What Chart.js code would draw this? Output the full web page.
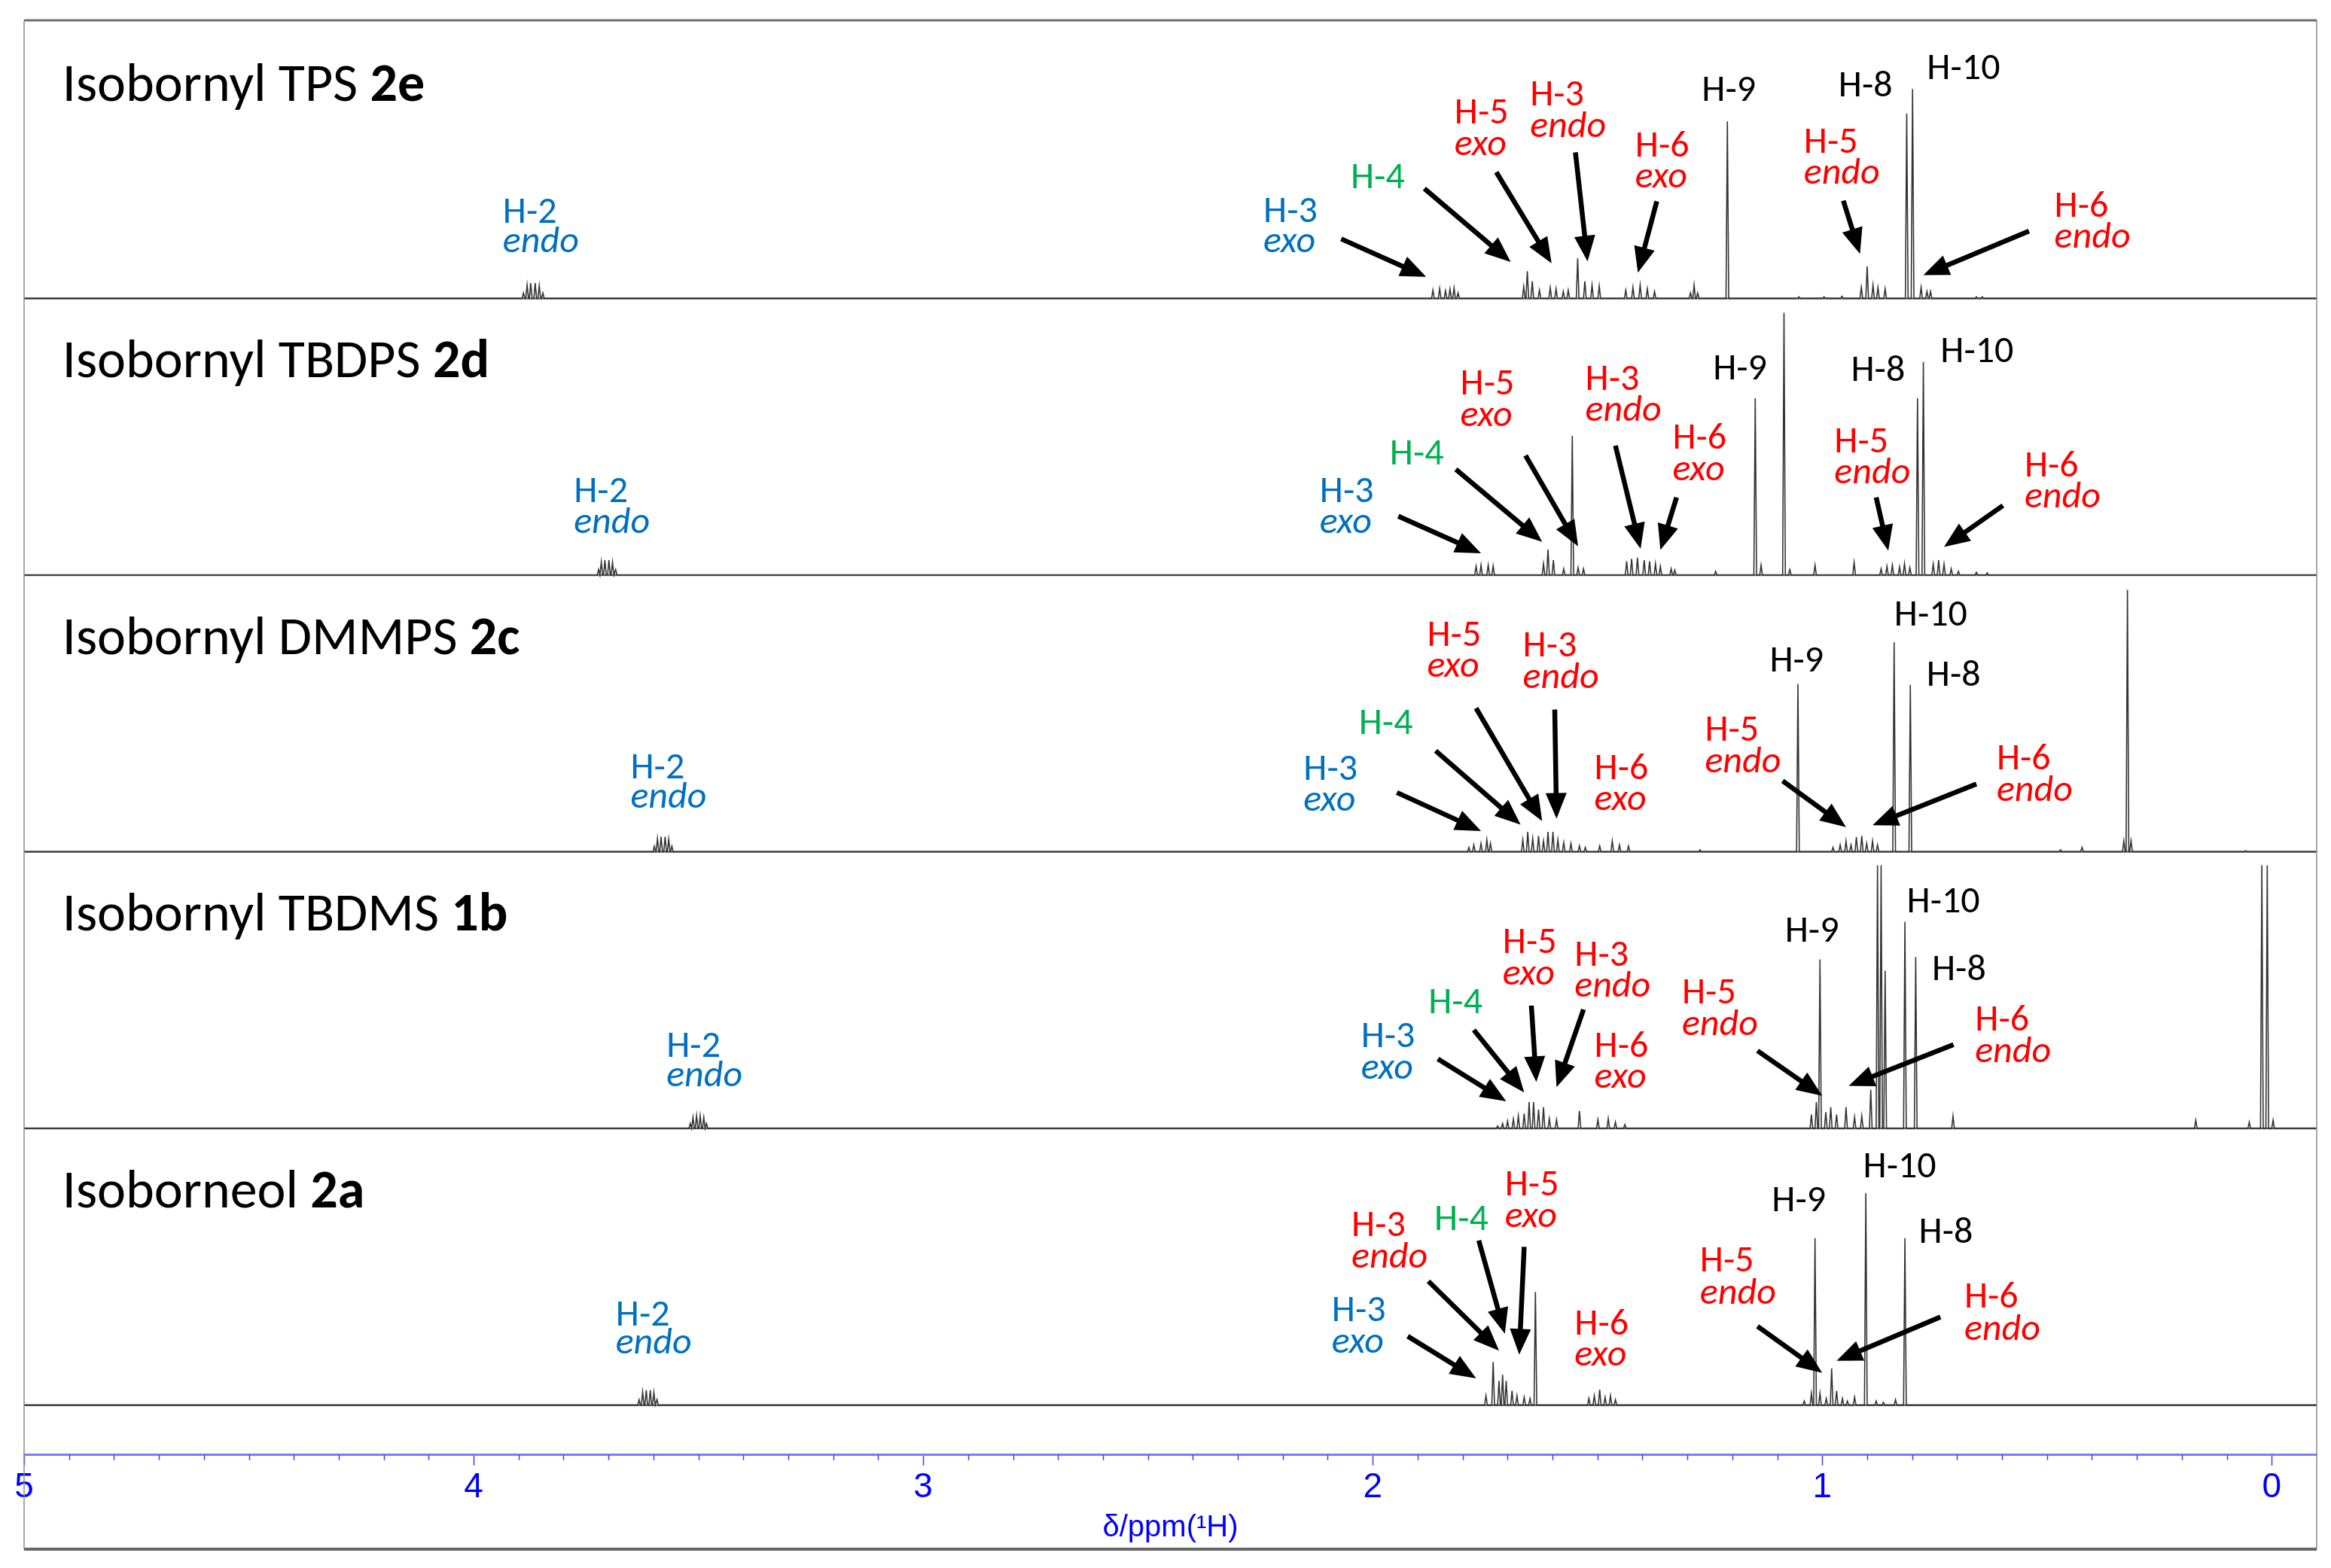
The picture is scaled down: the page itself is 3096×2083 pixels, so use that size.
<!DOCTYPE html>
<html><head><meta charset="utf-8">
<script src="https://cdn.jsdelivr.net/npm/chart.js@4.4.0/dist/chart.umd.min.js"></script>
<style>html,body{margin:0;padding:0;background:#fff;overflow:hidden}</style>
</head><body>
<canvas id="c" width="3096" height="2083" style="width:3096px;height:2083px;display:block"></canvas>
<script>
// ---------------- DATA ----------------
const compoundNames = ['Isobornyl TPS ', 'Isobornyl TBDPS ', 'Isobornyl DMMPS ', 'Isobornyl TBDMS ', 'Isoborneol '];
const compoundNumbers = ['2e', '2d', '2c', '1b', '2a'];
const majorTickLabels = [5, 4, 3, 2, 1, 0];
const axisTitle = 'δ/ppm(¹H)';

// peaks: [ppm, relative intensity (fraction of panel height)]
const peaksTPS = [
  [3.889,0.020],[3.881,0.048],[3.873,0.055],[3.863,0.055],[3.854,0.046],[3.846,0.020],
  [1.866,0.030],[1.851,0.036],[1.838,0.028],[1.828,0.034],[1.819,0.038],[1.810,0.020],
  [1.664,0.043],[1.656,0.098],[1.645,0.062],[1.629,0.030],[1.605,0.039],[1.592,0.035],[1.576,0.025],[1.565,0.030],
  [1.544,0.145],[1.528,0.062],[1.512,0.048],[1.496,0.045],
  [1.437,0.030],[1.421,0.040],[1.405,0.048],[1.389,0.035],[1.373,0.025],
  [1.293,0.020],[1.285,0.048],[1.277,0.020],
  [1.211,0.640],
  [1.052,0.006],[0.996,0.006],[0.956,0.008],
  [0.913,0.040],[0.900,0.116],[0.887,0.048],[0.876,0.039],[0.860,0.035],
  [0.812,0.668],[0.799,0.757],
  [0.780,0.040],[0.767,0.025],[0.759,0.025],
  [0.657,0.006],[0.644,0.006]
];
const peaksTBDPS = [
  [3.722,0.020],[3.716,0.048],[3.708,0.054],[3.699,0.054],[3.691,0.046],[3.684,0.020],
  [1.770,0.032],[1.759,0.036],[1.743,0.036],[1.732,0.033],
  [1.620,0.041],[1.610,0.092],[1.598,0.054],[1.575,0.023],[1.556,0.503],[1.543,0.027],[1.531,0.023],
  [1.435,0.050],[1.424,0.059],[1.411,0.063],[1.396,0.054],[1.384,0.050],[1.371,0.041],[1.360,0.032],[1.336,0.023],[1.328,0.018],
  [1.237,0.014],
  [1.149,0.639],[1.136,0.036],
  [1.085,0.948],[1.072,0.020],
  [1.016,0.036],[0.929,0.045],
  [0.869,0.023],[0.856,0.032],[0.844,0.036],[0.828,0.030],[0.817,0.041],[0.805,0.027],
  [0.788,0.639],[0.775,0.770],
  [0.753,0.040],[0.741,0.054],[0.729,0.040],[0.713,0.023],[0.697,0.014],[0.657,0.010],[0.633,0.008]
];
const peaksDMMPS = [
  [3.598,0.020],[3.591,0.048],[3.583,0.054],[3.574,0.054],[3.566,0.046],[3.559,0.020],
  [1.786,0.016],[1.775,0.025],[1.759,0.030],[1.746,0.043],[1.738,0.030],
  [1.666,0.043],[1.655,0.072],[1.644,0.048],[1.631,0.057],[1.620,0.039],[1.610,0.072],[1.599,0.072],[1.588,0.043],[1.575,0.034],[1.559,0.030],[1.540,0.021],[1.527,0.016],
  [1.495,0.021],[1.467,0.039],[1.451,0.025],[1.431,0.021],
  [1.272,0.007],
  [1.054,0.607],
  [0.976,0.016],[0.960,0.025],[0.947,0.039],[0.936,0.025],[0.924,0.053],[0.912,0.057],[0.901,0.030],[0.888,0.039],[0.877,0.025],
  [0.840,0.757],[0.804,0.603],
  [0.470,0.007],[0.422,0.016],
  [0.329,0.040],[0.321,0.947],[0.313,0.040],
  [0.058,0.004]
];
const peaksTBDMS = [
  [3.518,0.018],[3.512,0.040],[3.504,0.046],[3.496,0.046],[3.488,0.040],[3.482,0.018],
  [1.722,0.009],[1.711,0.018],[1.700,0.027],[1.687,0.034],[1.676,0.045],[1.663,0.054],[1.652,0.095],[1.642,0.095],[1.631,0.068],[1.620,0.077],[1.607,0.036],[1.591,0.032],
  [1.540,0.063],[1.499,0.032],[1.476,0.036],[1.460,0.023],[1.439,0.014],
  [1.024,0.050],[1.013,0.095],[1.005,0.611],[0.992,0.059],[0.981,0.077],[0.968,0.050],[0.947,0.077],[0.928,0.041],[0.912,0.045],[0.892,0.140],
  [0.877,0.951],[0.869,0.951],[0.860,0.570],
  [0.816,0.747],[0.792,0.620],
  [0.709,0.045],
  [0.169,0.030],
  [0.050,0.023],[0.022,0.951],[0.010,0.951],[-0.003,0.030]
];
const peaksIsoborneol = [
  [3.632,0.020],[3.624,0.048],[3.616,0.054],[3.607,0.054],[3.599,0.046],[3.592,0.020],
  [1.748,0.034],[1.732,0.156],[1.719,0.088],[1.711,0.110],[1.703,0.088],[1.690,0.052],[1.679,0.034],[1.663,0.029],[1.650,0.024],[1.638,0.409],
  [1.519,0.024],[1.507,0.034],[1.495,0.056],[1.483,0.029],[1.471,0.034],[1.460,0.020],
  [1.040,0.015],[1.024,0.043],[1.016,0.604],[1.005,0.043],[0.991,0.024],[0.979,0.133],[0.968,0.052],[0.955,0.024],[0.944,0.015],[0.928,0.029],
  [0.903,0.767],
  [0.880,0.015],[0.864,0.010],[0.837,0.020],
  [0.816,0.604]
];
const spectra = [peaksTPS, peaksTBDPS, peaksDMMPS, peaksTBDMS, peaksIsoborneol];

// ---------------- LAYOUT / ANNOTATIONS ----------------
const BASES = [4.18, 3.18, 2.18, 1.18, 0.18];   // panel baselines (y units)
const Y_MAX = 5.185;
const BLUE = '#0070c0', GREEN = '#00b050', RED = '#ff0000', BLACK = '#000000';
// [line1, line2(italic) or null, color, leftPpm, y1, y2]
const labels = [
  [['H-2','endo',BLUE,3.935,0.274,0.168],['H-3','exo',BLUE,2.243,0.277,0.166],['H-4',null,GREEN,2.049,0.397],
   ['H-5','exo',RED,1.818,0.632,0.519],['H-3','endo',RED,1.650,0.698,0.582],['H-6','exo',RED,1.416,0.512,0.401],
   ['H-9',null,BLACK,1.268,0.714],['H-5','endo',RED,1.041,0.526,0.415],['H-8',null,BLACK,0.964,0.730],
   ['H-10',null,BLACK,0.767,0.793],['H-6','endo',RED,0.4835,0.295,0.184]],
  [['H-2','endo',BLUE,3.777,0.265,0.152],['H-3','exo',BLUE,2.118,0.263,0.152],['H-4',null,GREEN,1.962,0.401],
   ['H-5','exo',RED,1.805,0.652,0.539],['H-3','endo',RED,1.527,0.670,0.557],['H-6','exo',RED,1.333,0.457,0.344],
   ['H-9',null,BLACK,1.243,0.707],['H-5','endo',RED,0.973,0.444,0.331],['H-8',null,BLACK,0.936,0.702],
   ['H-10',null,BLACK,0.737,0.770],['H-6','endo',RED,0.550,0.356,0.245]],
  [['H-2','endo',BLUE,3.651,0.266,0.160],['H-3','exo',BLUE,2.154,0.259,0.148],['H-4',null,GREEN,2.031,0.426],
   ['H-5','exo',RED,1.879,0.745,0.632],['H-3','endo',RED,1.666,0.707,0.591],['H-6','exo',RED,1.507,0.263,0.150],
   ['H-9',null,BLACK,1.117,0.652],['H-5','endo',RED,1.261,0.401,0.286],['H-10',null,BLACK,0.840,0.818],
   ['H-8',null,BLACK,0.768,0.601],['H-6','endo',RED,0.612,0.299,0.184]],
  [['H-2','endo',BLUE,3.571,0.260,0.152],['H-3','exo',BLUE,2.026,0.294,0.181],['H-4',null,GREEN,1.876,0.417],
   ['H-5','exo',RED,1.711,0.634,0.521],['H-3','endo',RED,1.551,0.589,0.476],['H-6','exo',RED,1.507,0.260,0.148],
   ['H-9',null,BLACK,1.083,0.675],['H-5','endo',RED,1.312,0.453,0.338],['H-10',null,BLACK,0.812,0.782],
   ['H-8',null,BLACK,0.756,0.537],['H-6','endo',RED,0.660,0.353,0.240]],
  [['H-2','endo',BLUE,3.684,0.288,0.187],['H-3','exo',BLUE,2.091,0.303,0.190],['H-3','endo',RED,2.047,0.611,0.498],
   ['H-4',null,GREEN,1.863,0.633],['H-5','exo',RED,1.706,0.758,0.643],['H-6','exo',RED,1.551,0.255,0.142],
   ['H-9',null,BLACK,1.112,0.701],['H-5','endo',RED,1.272,0.482,0.367],['H-10',null,BLACK,0.909,0.823],
   ['H-8',null,BLACK,0.785,0.588],['H-6','endo',RED,0.684,0.352,0.237]]
];
// [tailPpm, tailY, tipPpm, tipY] relative to panel baseline
const arrows = [
  [[2.070,0.215,1.881,0.078],[1.885,0.397,1.693,0.132],[1.725,0.456,1.602,0.127],[1.549,0.528,1.522,0.134],[1.368,0.351,1.410,0.093],[0.953,0.353,0.916,0.161],[0.540,0.243,0.775,0.084]],
  [[1.943,0.213,1.759,0.079],[1.815,0.382,1.623,0.120],[1.660,0.432,1.543,0.104],[1.460,0.468,1.404,0.095],[1.324,0.281,1.360,0.091],[0.880,0.281,0.853,0.088],[0.598,0.251,0.729,0.102]],
  [[1.946,0.214,1.759,0.075],[1.860,0.365,1.671,0.098],[1.770,0.519,1.623,0.111],[1.595,0.514,1.591,0.120],[1.088,0.256,0.947,0.089],[0.657,0.245,0.888,0.096]],
  [[1.855,0.251,1.703,0.098],[1.775,0.356,1.663,0.130],[1.647,0.444,1.636,0.168],[1.531,0.430,1.591,0.149],[1.144,0.281,1.000,0.118],[0.708,0.303,0.941,0.154]],
  [[1.922,0.249,1.770,0.097],[1.876,0.448,1.719,0.197],[1.764,0.595,1.706,0.258],[1.663,0.572,1.674,0.183],[1.144,0.285,1.000,0.117],[0.737,0.319,0.968,0.160]]
];
const TITLE_X = 4.915, TITLE_Y = 0.715;
const PEAK_HALF = 0.003;
const LABEL_FONT = 'Carlito, Lato, sans-serif';
const TITLE_PX = 72, LABEL_PX = 50;

function buildSpectrum(peaks, base) {
  const sorted = peaks.slice().sort((a, b) => b[0] - a[0]);
  const pts = [{x: 5.0, y: base}];
  for (const [p, h] of sorted) {
    pts.push({x: p + PEAK_HALF, y: base}, {x: p, y: base + h}, {x: p - PEAK_HALF, y: base});
  }
  pts.push({x: -0.1, y: base});
  return pts;
}
const isInt = v => Math.abs(v - Math.round(v)) < 1e-6;

const bgPlugin = {
  id: 'bg',
  beforeDraw(chart) {
    const c = chart.ctx; c.save(); c.fillStyle = '#fff'; c.fillRect(0, 0, chart.width, chart.height); c.restore();
  },
  beforeDatasetsDraw(chart) {
    const c = chart.ctx, ys = chart.scales.y, a = chart.chartArea;
    c.save(); c.strokeStyle = '#6a6a6a'; c.lineWidth = 2.5;
    for (const b of BASES) {
      const y = ys.getPixelForValue(b);
      c.beginPath(); c.moveTo(a.left, y); c.lineTo(a.right, y); c.stroke();
    }
    c.restore();
  },
  afterDraw(chart) {
    const c = chart.ctx, a = chart.chartArea, xs = chart.scales.x, ys = chart.scales.y;
    c.save();
    // minor ticks
    c.strokeStyle = '#3c3cff'; c.lineWidth = 1.5;
    for (const t of xs.ticks) {
      if (isInt(t.value) || t.value < -0.05) continue;
      const x = Math.round(xs.getPixelForValue(t.value)) + 0.5;
      c.beginPath(); c.moveTo(x, xs.top); c.lineTo(x, xs.top + 7); c.stroke();
    }
    // frame
    const bottom = chart.height - 25;
    c.strokeStyle = '#8c8c8c'; c.lineWidth = 1.5;
    c.beginPath(); c.moveTo(a.left, a.top); c.lineTo(a.left, bottom); c.moveTo(a.right, a.top); c.lineTo(a.right, bottom); c.stroke();
    c.strokeStyle = '#6e6e6e'; c.lineWidth = 3;
    c.beginPath(); c.moveTo(a.left, a.top); c.lineTo(a.right, a.top); c.stroke();
    c.lineWidth = 4; c.strokeStyle = '#666';
    c.beginPath(); c.moveTo(a.left, bottom); c.lineTo(a.right, bottom); c.stroke();

    // titles
    c.textBaseline = 'alphabetic'; c.textAlign = 'left';
    for (let i = 0; i < 5; i++) {
      const x = xs.getPixelForValue(TITLE_X), y = ys.getPixelForValue(BASES[i] + TITLE_Y);
      c.fillStyle = '#000';
      c.font = TITLE_PX + 'px ' + LABEL_FONT;
      c.fillText(compoundNames[i], x, y);
      const w = c.measureText(compoundNames[i]).width;
      c.font = 'bold ' + TITLE_PX + 'px ' + LABEL_FONT;
      c.fillText(compoundNumbers[i], x + w, y);
    }
    // labels
    for (let i = 0; i < 5; i++) {
      for (const L of labels[i]) {
        const [t1, t2, col, px, y1, y2] = L;
        const x = xs.getPixelForValue(px);
        c.fillStyle = col;
        c.font = LABEL_PX + 'px ' + LABEL_FONT;
        c.fillText(t1, x, ys.getPixelForValue(BASES[i] + y1));
        if (t2) {
          c.font = 'italic ' + LABEL_PX + 'px ' + LABEL_FONT;
          c.fillText(t2, x, ys.getPixelForValue(BASES[i] + y2));
        }
      }
    }
    // arrows
    c.fillStyle = '#000'; c.strokeStyle = '#000'; c.lineCap = 'butt';
    for (let i = 0; i < 5; i++) {
      for (const A of arrows[i]) {
        const x1 = xs.getPixelForValue(A[0]), y1 = ys.getPixelForValue(BASES[i] + A[1]);
        const x2 = xs.getPixelForValue(A[2]), y2 = ys.getPixelForValue(BASES[i] + A[3]);
        const ang = Math.atan2(y2 - y1, x2 - x1), HL = 34, HW = 14;
        const bx = x2 - HL * Math.cos(ang), by = y2 - HL * Math.sin(ang);
        c.lineWidth = 6.5;
        c.beginPath(); c.moveTo(x1, y1); c.lineTo(bx + 2 * Math.cos(ang), by + 2 * Math.sin(ang)); c.stroke();
        c.beginPath(); c.moveTo(x2, y2);
        c.lineTo(bx + HW * Math.sin(ang), by - HW * Math.cos(ang));
        c.lineTo(bx - HW * Math.sin(ang), by + HW * Math.cos(ang));
        c.closePath(); c.fill();
      }
    }
    c.restore();
  }
};

new Chart(document.getElementById('c'), {
  type: 'line',
  data: {
    datasets: spectra.map((p, i) => ({
      label: compoundNames[i] + compoundNumbers[i],
      data: buildSpectrum(p, BASES[i]),
      borderColor: '#333333', borderWidth: 1.6, pointRadius: 0, tension: 0, fill: false
    }))
  },
  options: {
    responsive: false, animation: false, events: [],
    layout: {padding: {left: 32, right: 19, top: 27, bottom: 29}},
    plugins: {legend: {display: false}, tooltip: {enabled: false}},
    scales: {
      x: {
        type: 'linear', min: -0.1, max: 5, reverse: true, position: 'bottom',
        ticks: {
          stepSize: 0.1, autoSkip: false, maxRotation: 0, minRotation: 0, padding: 2,
          color: '#0000ff', font: {family: 'Liberation Sans', size: 46, lineHeight: 1.2},
          callback: v => isInt(v) && majorTickLabels.includes(Math.round(v)) ? String(Math.round(v)) : ''
        },
        grid: {
          drawOnChartArea: false, drawTicks: true, tickLength: 14, tickWidth: 1.5,
          tickColor: ctx => (ctx.tick && isInt(ctx.tick.value)) ? '#3c3cff' : 'rgba(0,0,0,0)'
        },
        border: {display: true, color: '#7b7bff', width: 3},
        title: {display: true, text: axisTitle, color: '#0000ff',
          font: {family: 'Liberation Sans', size: 40, lineHeight: 1.2}, padding: {top: 0, bottom: 0}}
      },
      y: {display: false, min: 0, max: Y_MAX}
    }
  },
  plugins: [bgPlugin]
});
</script>
</body></html>
